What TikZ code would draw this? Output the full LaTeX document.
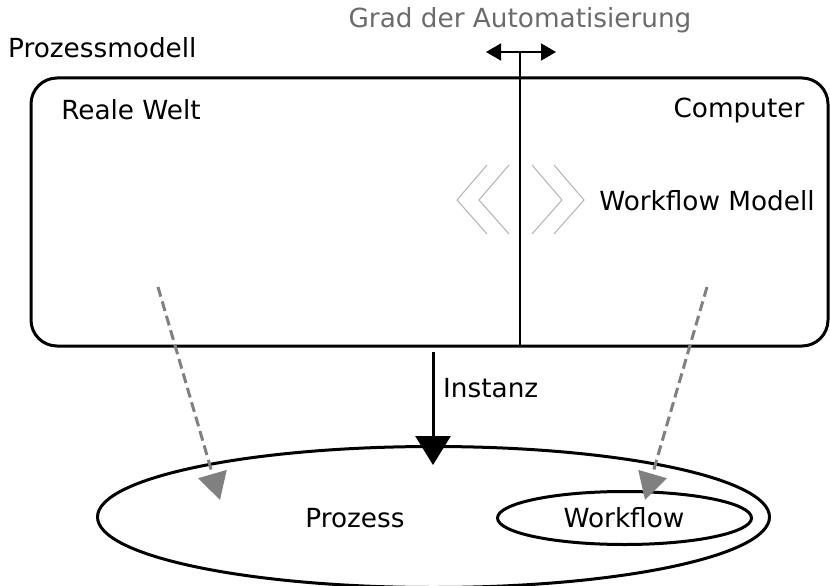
\documentclass[tikz,border=0pt]{standalone}
\usepackage{fontspec}
\setmainfont{DejaVu Sans}
\usetikzlibrary{arrows.meta,shapes.geometric}
\begin{document}
\begin{tikzpicture}[x=1pt,y=-1pt,
  txt/.style={font=\fontsize{26.3}{31}\selectfont, inner sep=0pt, text=black},
  frame/.style={draw=black, line width=3pt, rounded corners=26pt},
  chev/.style={draw=black!30, line width=1pt},
  dasharrow/.style={draw=black!50, line width=3pt, dash pattern=on 10pt off 5pt,
    -{Triangle[length=27pt,width=29pt]}},
  oval/.style={draw=black, line width=3pt, ellipse, inner sep=0pt}]
\useasboundingbox (0,0) rectangle (830,586);

% process model frame
\node[frame, minimum width=797pt, minimum height=268pt] (model) at (429.5,212) {};
\node[txt, anchor=west] (pm) at (8,48) {Prozessmodell};
\node[txt] (real) at (131,110) {Reale Welt};
\node[txt] (comp) at (739,110) {Computer};
\node[txt] (wfm) at (707,201) {Workflow Modell};

% degree of automation
\node[txt, text=black!58] (grad) at (520,20) {Grad der Automatisierung};
\coordinate (sepTop) at (520,52);
\coordinate (sepBot) at (520,346);
\draw[line width=1.5pt] (sepTop) -- (sepBot);
\coordinate (gl) at (486,52);
\coordinate (gr) at (556,52);
\draw[line width=1.5pt, {Triangle[length=15pt,width=17pt]}-{Triangle[length=15pt,width=17pt]}] (gl) -- (gr);

% chevrons
\draw[chev] (487,165) -- (457,200) -- (487,234);
\draw[chev] (509,165) -- (479,200) -- (509,234);
\draw[chev] (532,165) -- (562,200) -- (532,234);
\draw[chev] (554,165) -- (584,200) -- (554,234);

% instances
\node[oval, minimum width=672pt, minimum height=141pt] (proc) at (433.5,517) {};
\node[oval, minimum width=254pt, minimum height=53pt] (wf) at (624.5,518) {};
\node[txt] (proclbl) at (355,518) {Prozess};
\node[txt] (wflbl) at (624,518) {Workflow};

\coordinate (instTop) at (433,352);
\coordinate (instTip) at (433,465);
\draw[line width=3pt, -{Triangle[length=29pt,width=35pt]}] (instTop) -- (instTip);
\node[txt, anchor=west] (inst) at (443,388) {Instanz};

\coordinate (lStart) at (158,287);
\coordinate (lEnd) at (220,500);
\draw[dasharrow] (lStart) -- (lEnd);
\coordinate (rStart) at (707,287);
\coordinate (rEnd) at (645,500);
\draw[dasharrow] (rStart) -- (rEnd);
\end{tikzpicture}
\end{document}
